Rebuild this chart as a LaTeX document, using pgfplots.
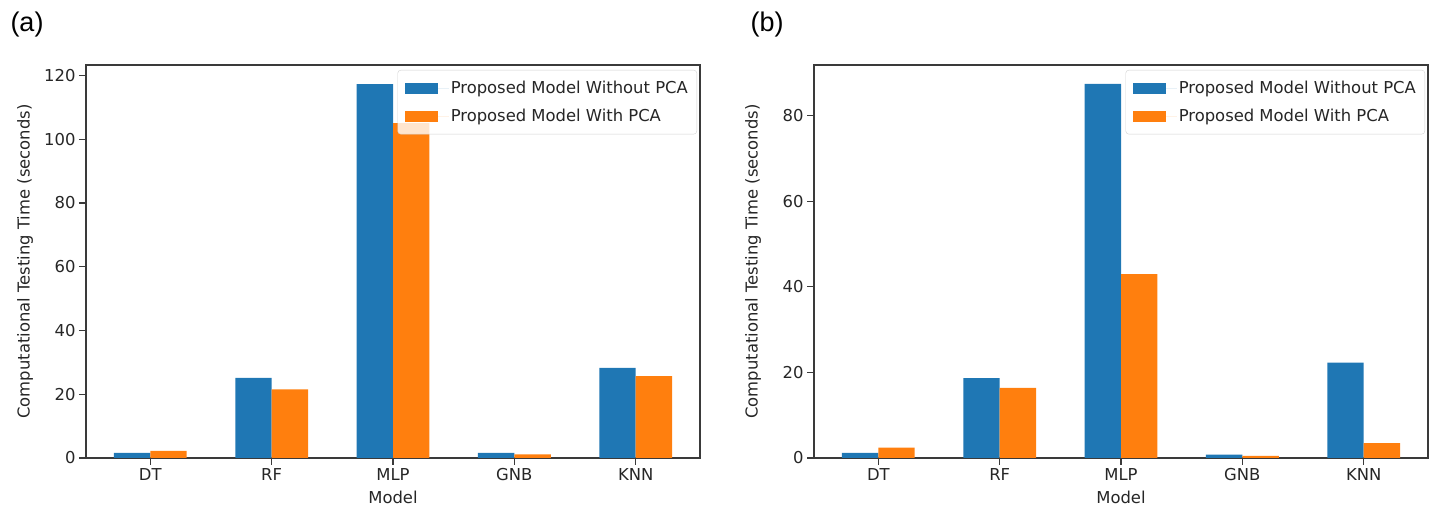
\documentclass[border=0pt]{standalone}
\usepackage{fontspec}
\setmainfont{DejaVu Sans}
\newfontfamily\panelfont{Liberation Sans}
\usepackage{pgfplots}
\usepackage{pgfplotstable}
\pgfplotsset{compat=1.18}
\definecolor{mblue}{HTML}{1F77B4}
\definecolor{morange}{HTML}{FF7F0E}
\definecolor{axgray}{HTML}{3A3A3A}
\definecolor{txt}{HTML}{262626}

\pgfplotstableread{
x noPCA PCA
0 1.6 2.2
1 25.1 21.5
2 117.3 105.1
3 1.6 1.15
4 28.3 25.7
}\dataA
\pgfplotstableread{
x noPCA PCA
0 1.2 2.4
1 18.7 16.4
2 87.5 43.0
3 0.8 0.5
4 22.3 3.5
}\dataB

\pgfplotsset{
  mystyle/.style={
    width=614pt, height=393pt, scale only axis,
    ybar, bar width=0.3,
    xmin=-0.53, xmax=4.53, ymin=0,
    xtick={0,1,2,3,4}, xticklabels={DT,RF,MLP,GNB,KNN},
    tick align=outside, major tick length=7pt, tick pos=left,
    axis line style={axgray, line width=1.1pt},
    every tick/.style={axgray, line width=1.1pt},
    font=\fontsize{16.4}{19}\selectfont,
    ticklabel style={font=\fontsize{16.4}{19}\selectfont, text=txt},
    /pgf/number format/assume math mode=true,
    xlabel={Model}, ylabel={Computational Testing Time (seconds)},
    label style={text=txt},
    xlabel style={at={(axis description cs:0.5,0)}, anchor=center, yshift=-39pt},
    ylabel style={at={(axis description cs:-0.0993,0.5)}, anchor=center},
    legend style={at={(1,1)}, anchor=north east, xshift=-3pt, yshift=-5pt,
      draw=gray!35, rounded corners=3pt, fill=white, fill opacity=0.8, text opacity=1,
      font=\fontsize{16.4}{19}\selectfont, text=txt,
      inner xsep=7pt, inner ysep=9pt, row sep=10pt,
      legend cell align=left},
    legend image code/.code={\fill[##1, draw=none, sharp corners, fill opacity=1] (0pt,-5.5pt) rectangle (33pt,5.5pt);
      \path (0pt,0pt) -- (44pt,0pt);},
    clip=false,
  }
}

\begin{document}
\begin{tikzpicture}
\path[use as bounding box] (0pt,0pt) rectangle (1445pt,510pt);
\node[anchor=center, font=\panelfont\fontsize{27}{30}\selectfont] at (27pt,485pt) {(a)};
\node[anchor=center, font=\panelfont\fontsize{27}{30}\selectfont] at (767pt,485pt) {(b)};

\begin{axis}[mystyle, at={(86pt,52pt)}, anchor=south west,
  ymax=123.3, ytick={0,20,40,60,80,100,120}]
\addplot[fill=mblue, draw=none, bar shift=-0.15] table[x=x, y=noPCA] {\dataA};
\addplot[fill=morange, draw=none, bar shift=0.15] table[x=x, y=PCA] {\dataA};
\legend{Proposed Model Without PCA, Proposed Model With PCA}
\end{axis}

\begin{axis}[mystyle, at={(814pt,52pt)}, anchor=south west,
  ymax=91.9, ytick={0,20,40,60,80}]
\addplot[fill=mblue, draw=none, bar shift=-0.15] table[x=x, y=noPCA] {\dataB};
\addplot[fill=morange, draw=none, bar shift=0.15] table[x=x, y=PCA] {\dataB};
\legend{Proposed Model Without PCA, Proposed Model With PCA}
\end{axis}
\end{tikzpicture}
\end{document}
